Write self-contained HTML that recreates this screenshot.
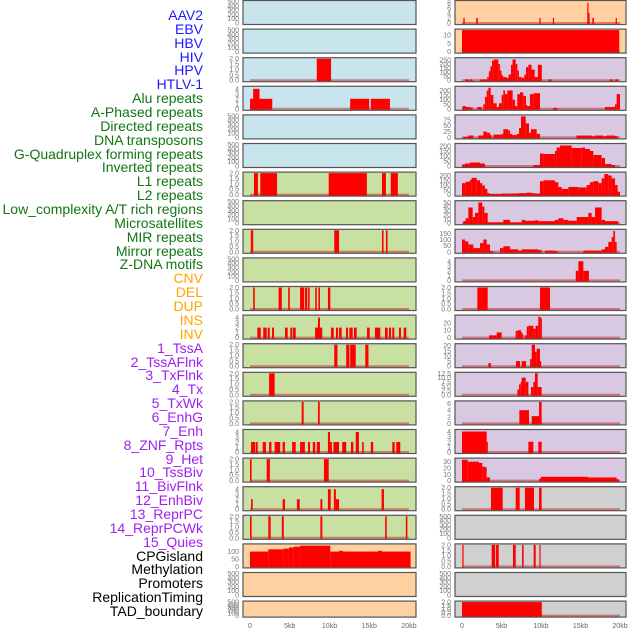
<!DOCTYPE html>
<html><head><meta charset="utf-8"><style>
html,body{margin:0;padding:0;background:#fff;}
#wrap{position:relative;width:630px;height:630px;overflow:hidden;font-family:"Liberation Sans",sans-serif;}
#labels{position:absolute;left:0;top:0;width:203px;}
.lab{position:absolute;right:0;font-size:14px;line-height:14px;white-space:nowrap;text-align:right;}
svg{position:absolute;left:0;top:0;}
</style></head><body>
<div id="wrap">
<div id="labels"></div>
<svg id="svg" width="630" height="630"></svg>
</div>
<script>
const labelNames = ["AAV2","EBV","HBV","HIV","HPV","HTLV-1","Alu repeats","A-Phased repeats","Directed repeats","DNA transposons","G-Quadruplex forming repeats","Inverted repeats","L1 repeats","L2 repeats","Low_complexity A/T rich regions","Microsatellites","MIR repeats","Mirror repeats","Z-DNA motifs","CNV","DEL","DUP","INS","INV","1_TssA","2_TssAFlnk","3_TxFlnk","4_Tx","5_TxWk","6_EnhG","7_Enh","8_ZNF_Rpts","9_Het","10_TssBiv","11_BivFlnk","12_EnhBiv","13_ReprPC","14_ReprPCWk","15_Quies","CPGisland","Methylation","Promoters","ReplicationTiming","TAD_boundary"];
const labelGroups = [6,13,5,15,5];
const groupColors = ["#1a1aff","#117711","#ffa500","#a020f0","#000000"];

const midBg = ["b","b","b","b","b","b","g","g","g","g","g","g","g","g","g","g","g","g","g","o","o","o"];
const rightBg = ["o","o","p","p","p","p","p","p","p","p","p","p","p","p","p","p","p","x","x","x","x","x"];
const midYmax = [500,500,2,4.3,500,500,2,500,2,500,2,4.3,2,2,2,4.3,2,4.3,2,145,500,500];
const rightYmax = [8.5,13,265,235,92,215,225,52,175,4.5,2,29,21,12.5,6.5,4.2,34,2,500,2,500,2];
const midTicks = [[0,100,200,300,400,500],[0,100,200,300,400,500],[0,0.5,1,1.5,2],[0,1,2,3,4],[0,100,200,300,400,500],[0,100,200,300,400,500],[0,0.5,1,1.5,2],[0,100,200,300,400,500],[0,0.5,1,1.5,2],[0,100,200,300,400,500],[0,0.5,1,1.5,2],[0,1,2,3,4],[0,0.5,1,1.5,2],[0,0.5,1,1.5,2],[0,0.5,1,1.5,2],[0,1,2,3,4],[0,0.5,1,1.5,2],[0,1,2,3,4],[0,0.5,1,1.5,2],[0,50,100],[0,100,200,300,400,500],[0,100,200,300,400,500]];
const rightTicks = [[0,2,4,6,8],[0,5,10],[0,50,100,150,200,250],[0,50,100,150,200],[0,25,50,75],[0,50,100,150,200],[0,50,100,150,200],[0,10,20,30,40,50],[0,50,100,150],[0,1,2,3,4],[0,0.5,1,1.5,2],[0,10,20],[0,5,10,15,20],[0,2.5,5,7.5,10,12.5],[0,2,4,6],[0,1,2,3,4],[0,10,20,30],[0,0.5,1,1.5,2],[0,100,200,300,400,500],[0,0.5,1,1.5,2],[0,100,200,300,400,500],[0,0.5,1,1.5,2]];
const xTickKb = [0,5,10,15,20];
const xTickLabels = ["0","5kb","10kb","15kb","20kb"];

// bars: [startKb, endKb, value]
const midBars = [
 [],[],
 [[8.4,10.2,2]],
 [[0,2.8,2],[0.4,1.2,4],[12.6,15,2],[15.2,17.6,2]],
 [],[],
 [[0.5,1.0,2],[1.3,3.4,2],[9.9,14.7,2],[16.6,17.1,2],[17.7,18.6,2]],
 [],
 [[0.1,0.4,2],[10.6,11.2,2],[16.6,16.8,2],[17.1,17.3,2]],
 [],
 [[0.4,0.6,2],[3.6,4.0,2],[4.8,5.0,2],[6.3,6.8,2],[6.9,7.2,2],[7.3,7.5,2],[8.2,8.4,2],[8.6,8.8,2],[9.8,10.1,2]],
 [[0.92,1.35,2],[1.67,2.1,2],[2.23,2.48,2],[2.77,3.02,2],[4.4,4.74,2],[5.07,5.32,2],[5.4,5.75,2],[8.18,9.09,2],[8.55,8.8,4],[10.19,10.53,2],[10.82,11.07,2],[11.2,11.53,2],[12.08,12.33,2],[12.5,12.92,2],[13.08,13.42,2],[14.72,15.06,2],[15.72,16.39,2],[16.98,17.32,2],[17.48,17.74,2],[17.9,18.15,2],[18.74,18.99,2],[19.33,19.66,2]],
 [[10.6,11.0,2],[12.1,12.5,2],[12.6,13.3,2],[14.5,14.9,2]],
 [[2.4,3.1,2]],
 [[6.5,6.75,2],[8.55,8.77,2]],
 [[0.13,0.63,2],[0.71,0.97,2],[1.6,2.0,2],[2.4,2.7,2],[3.1,3.8,2],[4.1,4.4,2],[5.3,5.75,2],[6.3,6.9,2],[7.3,7.55,2],[7.9,8.2,2],[8.4,8.8,2],[9.8,10.06,4],[10.06,10.3,2],[10.5,11.2,2],[11.6,12.1,2],[12.7,13.0,2],[13.3,13.7,4],[14.1,14.3,2],[15.2,15.5,2],[17.9,18.2,2],[18.4,18.9,2]],
 [[0,0.2,2],[2.1,2.5,2],[9.3,9.9,2]],
 [[0.13,0.34,2],[4.1,4.4,2],[5.9,6.25,2],[8.85,9.1,2],[9.8,10.15,4],[10.55,10.8,4],[10.8,11.2,2],[16.55,16.85,4]],
 [[0,0.2,2],[2.3,2.6,2],[4.0,4.25,2],[8.85,9.1,2],[17.0,17.2,2],[19.6,19.8,2]],
 [[0,2.3,100],[2.3,4.2,115],[4.2,4.9,120],[4.9,5.5,128],[5.5,6.3,133],[6.3,10.1,140],[10.1,11.2,100],[11.2,11.7,105],[11.7,16.1,100],[16.1,16.6,105],[16.6,20.2,100]],
 [],[]
];
const rightBars = [
 [[0.17,0.34,2],[1.8,2.0,2],[9.8,9.95,2],[11.5,11.65,2],[15.86,16.0,8],[16.0,16.1,4],[16.5,16.7,2],[19.45,19.6,2]],
 [[0,19.9,13]],
 [[0.4,0.9,10],[1.0,1.35,10],[2.3,3.2,10],[3.2,3.4,40],[3.4,3.6,110],[3.6,3.8,170],[3.8,4.0,240],[4.0,4.6,255],[4.6,4.8,200],[4.8,5.0,120],[5.0,5.2,60],[5.2,5.6,40],[5.6,5.9,30],[5.9,6.2,70],[6.2,6.4,190],[6.4,6.8,255],[6.8,7.0,200],[7.0,7.2,120],[7.2,7.5,40],[7.5,7.9,30],[7.9,8.1,70],[8.1,8.4,160],[8.4,8.8,190],[8.8,9.2,130],[9.2,9.6,40],[9.6,10.1,190],[10.9,11.35,10],[18.7,19.1,10],[19.4,19.8,10]],
 [[0.05,0.46,30],[0.46,1.0,20],[1.0,1.35,15],[1.94,2.5,20],[2.7,2.9,50],[2.9,3.13,130],[3.13,3.34,200],[3.34,3.63,230],[3.63,3.97,150],[3.97,4.39,60],[4.39,4.68,20],[4.68,5.02,60],[5.02,5.23,150],[5.23,5.44,200],[5.44,5.74,160],[5.74,6.41,200],[6.41,6.71,100],[6.71,7.0,30],[7.0,7.34,160],[7.34,7.76,180],[7.76,8.1,140],[8.1,8.27,40],[8.27,8.6,30],[8.6,9.03,160],[9.03,9.87,170],[11.56,12.07,10],[18.1,18.95,20],[18.95,19.37,20],[19.37,19.58,50],[19.58,20.0,160]],
 [[0.17,0.8,2],[0.8,1.44,8],[2.07,2.7,8],[2.7,3.12,25],[3.12,3.54,20],[3.54,3.76,10],[3.97,5.02,12],[5.02,5.23,15],[5.23,5.86,35],[5.86,6.08,30],[6.08,6.37,15],[6.37,6.92,10],[6.92,7.22,15],[7.22,7.47,40],[7.47,8.06,90],[8.06,8.48,60],[8.48,8.73,20],[8.73,9.45,35],[9.45,9.87,15],[14.5,16.4,8],[16.4,16.84,5],[16.84,17.89,8],[17.89,18.3,5],[18.3,19.37,8],[19.37,19.7,5]],
 [[0,0.38,15],[0.38,1.01,25],[1.01,1.65,35],[1.65,2.28,35],[2.28,2.91,25],[9.03,9.87,10],[9.87,10.3,125],[10.3,11.77,120],[11.77,11.98,150],[11.98,12.4,185],[12.4,13.88,205],[13.88,15.15,180],[15.15,15.57,185],[15.57,16.2,170],[16.2,16.62,150],[16.62,17.68,110],[17.68,18.1,80],[18.1,18.94,20],[18.94,19.37,10]],
 [[0,0.46,120],[0.46,1.01,135],[1.01,1.22,155],[1.22,1.86,175],[1.86,2.28,150],[2.28,2.57,120],[2.57,2.91,95],[2.91,3.21,60],[3.21,3.54,15],[3.54,5.02,5],[5.02,6.29,10],[6.29,7.13,12],[7.13,8.19,15],[8.19,8.82,20],[8.82,9.24,15],[9.24,9.87,10],[9.87,10.3,140],[10.3,11.77,150],[11.77,12.19,130],[12.19,12.62,80],[12.62,13.46,60],[13.46,14.73,80],[14.73,15.78,75],[15.78,16.2,100],[16.2,16.62,130],[16.62,17.26,140],[17.26,17.68,120],[17.68,18.02,170],[18.02,18.52,215],[18.52,18.94,200],[18.94,19.37,170],[19.37,19.7,100],[19.7,20.0,30]],
 [[0.17,0.46,5],[0.46,0.8,12],[0.8,1.35,38],[1.35,1.65,15],[1.65,2.07,25],[2.07,2.57,50],[2.57,2.83,40],[2.83,3.25,25],[3.25,5.23,2],[5.23,6.08,8],[6.08,7.55,2],[7.55,7.97,8],[7.97,9.24,6],[9.24,9.66,7],[9.66,11.77,5],[11.77,12.19,8],[12.19,12.83,12],[12.83,13.46,8],[13.46,14.52,6],[14.52,15.99,15],[15.99,16.41,25],[16.41,16.84,15],[16.84,17.68,38],[17.68,18.1,8],[18.1,19.79,5]],
 [[0,0.38,100],[0.38,0.8,85],[0.8,1.44,60],[1.44,2.28,30],[2.28,2.7,70],[2.7,3.12,100],[3.12,3.54,60],[3.54,3.97,5],[4.81,5.23,30],[5.23,6.08,45],[6.08,7.13,20],[7.13,7.55,10],[7.55,9.66,20],[9.66,10.08,15],[10.5,11.77,10],[11.77,12.19,5],[15.36,17.68,10],[17.68,18.1,20],[18.1,18.52,40],[18.52,18.94,80],[18.94,19.16,120],[19.16,19.37,170],[19.37,19.58,80]],
 [[14.4,14.73,2],[14.73,15.36,4],[15.36,16.07,2]],
 [[1.94,3.25,2],[9.87,11.14,2]],
 [[3.42,4.39,3],[4.39,5.02,7],[6.79,7.05,9],[7.05,7.47,10],[7.47,7.64,7],[7.64,7.8,4],[7.97,8.19,3],[8.19,8.4,15],[8.4,9.03,16],[9.03,9.32,12],[9.32,9.66,16],[9.66,9.96,28],[9.96,10.08,26]],
 [[3.34,3.67,3],[6.84,7.35,5],[7.55,8.1,5],[8.61,8.82,7],[8.82,9.24,21],[9.24,9.45,14],[9.45,9.87,17],[9.87,10.0,5]],
 [[7.01,7.22,3],[7.22,7.43,6],[7.43,7.55,7.5],[7.55,8.06,10],[8.06,8.4,7.5],[8.73,9.03,4.5],[9.03,9.24,7.5],[9.24,9.58,12.5],[9.58,10.08,4.5]],
 [[7.26,8.48,4],[8.82,9.75,2.2],[9.75,10.08,6.5]],
 [[0,3.12,4],[3.12,3.25,2],[8.4,9.03,2],[9.66,10.08,2]],
 [[0,0.72,33],[0.72,2.15,30],[2.15,2.57,28],[2.57,2.91,22],[2.91,3.12,21],[3.12,3.54,5],[9.75,9.96,3],[9.96,15.99,6],[15.99,19.58,5],[19.58,19.87,2]],
 [[3.67,5.15,2],[6.8,7.3,2],[7.97,9.11,2],[9.75,10.08,2]],
 [],
 [[0.04,0.2,2],[3.75,4.2,2],[4.3,4.65,2],[6.45,6.8,2],[7.6,7.8,2],[9.07,9.33,2],[9.8,9.95,2]],
 [],
 [[0,10.1,2]]
];

const bgColors = {b:"#c8e4ec",g:"#c8e0a2",o:"#ffd0a0",p:"#d8c8e2",x:"#d0d0d0"};
const NS = "http://www.w3.org/2000/svg";
const svg = document.getElementById("svg");
function mk(tag, attrs, parent){ const e=document.createElementNS(NS,tag); for(const k in attrs) e.setAttribute(k,attrs[k]); (parent||svg).appendChild(e); return e; }

// labels
const labDiv = document.getElementById("labels");
let li = 0;
labelGroups.forEach((n,g)=>{ for(let k=0;k<n;k++){ const d=document.createElement("div"); d.className="lab"; d.textContent=labelNames[li]; d.style.top=(8+li*13.86)+"px"; d.style.color=groupColors[g];
 
 
 labDiv.appendChild(d); li++; }});

const cols = [
 {name:"left", left:243, w:173, x0:250, x20:409, bg:midBg, ym:midYmax, ticks:midTicks, bars:midBars},
 {name:"right", left:455, w:171, x0:462, x20:620, bg:rightBg, ym:rightYmax, ticks:rightTicks, bars:rightBars}
];
function fmt(v, ticks){ const dec = ticks.some(t=>t%1!==0); if(!dec) return String(v); const anyHalfQ = ticks.some(t=>Math.abs(t*10%1)>1e-9); return anyHalfQ? v.toFixed(1): v.toFixed(1); }

cols.forEach(c=>{
 const xs = kb => c.x0 + kb/20*(c.x20-c.x0);
 for(let r=0;r<22;r++){
  const top = r*28.6 + 0.5, h = (r===21)?16:24;
  const g = mk("g",{});
  
  
  mk("rect",{x:c.left,y:top,width:c.w,height:h,fill:bgColors[c.bg[r]]},g);
  const yb = top+h-1.5, yt = top+1;
  const ym = c.ym[r];
  const ys = v => yb - v/ym*(yb-yt);
  const bars = c.bars[r];
  if(bars.length){
   const bl = mk("line",{x1:xs(0),x2:xs(20),y1:yb,y2:yb,stroke:"rgba(200,30,30,0.5)","stroke-width":2},g);
   
   
  }
  bars.forEach(b=>{
   const x1=xs(b[0]), x2=xs(b[1]);
   const re = mk("rect",{x:x1,y:ys(b[2]),width:Math.max(1.2,x2-x1),height:yb-ys(b[2])+1,fill:"#ff0000"},g);
   
   
  });
  mk("rect",{x:c.left,y:top,width:c.w,height:h,fill:"none",stroke:"#555","stroke-width":1.2},g);
  c.ticks[r].forEach(t=>{
   const tx = mk("text",{x:c.left-4,y:ys(t)+2.5,"font-size":7,"text-anchor":"end",fill:"#777","font-family":"Liberation Sans, sans-serif"},g);
   tx.textContent = fmt(t,c.ticks[r]);
   
   
  });
 }
 xTickKb.forEach((k,i)=>{
  const tx = mk("text",{x:xs(k),y:628,"font-size":7,"text-anchor":"middle",fill:"#666","font-family":"Liberation Sans, sans-serif"});
  tx.textContent = xTickLabels[i];
  
  
 });
});
</script>
</body></html>
